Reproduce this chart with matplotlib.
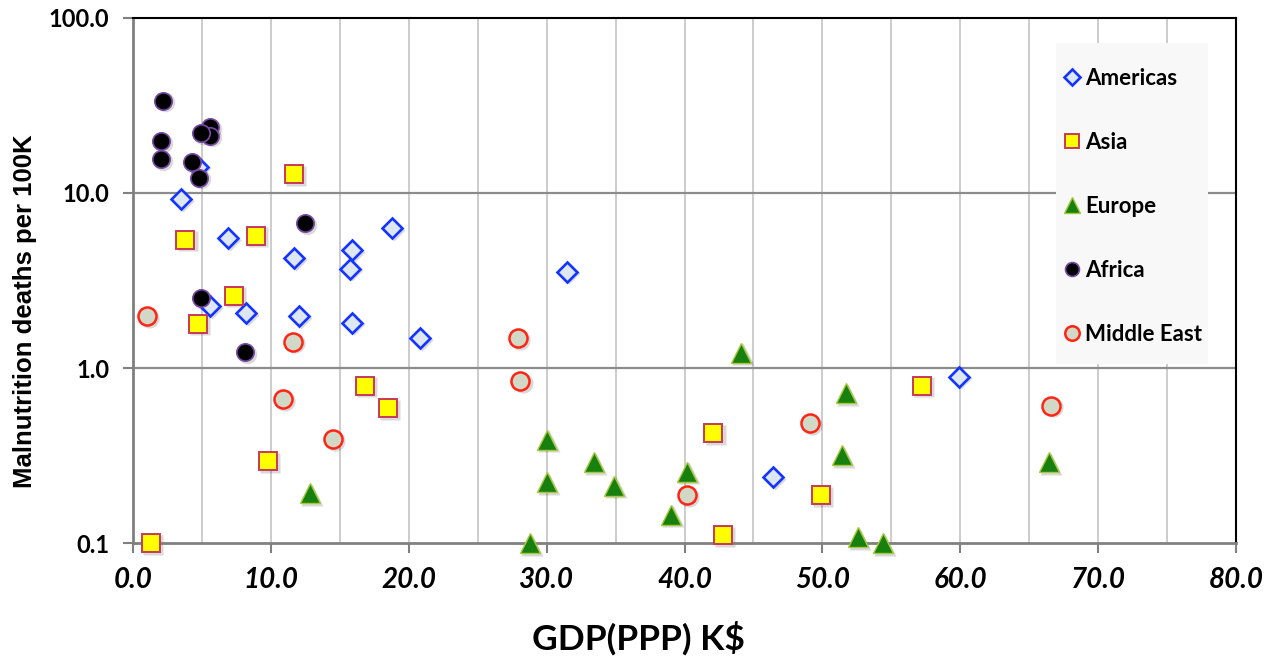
import matplotlib
matplotlib.use("Agg")
import matplotlib.pyplot as plt
import matplotlib.patches as patches
import numpy as np

# GDP(PPP) in k$ vs malnutrition deaths per 100k
americas_x = [4.7, 3.5, 6.9, 11.7, 15.9, 15.7, 18.8, 5.6, 8.2, 12.0, 15.9, 20.8, 31.5, 46.4, 59.9]
americas_y = [14.1, 9.2, 5.5, 4.25, 4.7, 3.7, 6.3, 2.26, 2.06, 1.98, 1.81, 1.48, 3.54, 0.238, 0.89]

asia_x = [11.7, 3.8, 8.9, 7.3, 4.7, 16.8, 18.5, 9.8, 1.3, 42.1, 42.8, 57.2, 49.9]
asia_y = [12.8, 5.4, 5.7, 2.58, 1.79, 0.79, 0.59, 0.294, 0.1, 0.425, 0.111, 0.79, 0.188]

europe_x = [12.8, 28.8, 30.0, 30.0, 33.4, 34.9, 39.0, 40.2, 44.1, 51.7, 51.4, 52.6, 54.4, 66.4]
europe_y = [0.193, 0.1, 0.388, 0.223, 0.29, 0.212, 0.145, 0.255, 1.22, 0.72, 0.318, 0.108, 0.1, 0.29]

africa_x = [2.2, 2.0, 2.0, 5.6, 5.6, 4.9, 4.3, 4.8, 12.5, 4.9, 8.1]
africa_y = [33.6, 19.8, 15.6, 23.8, 21.2, 22.0, 15.0, 12.2, 6.7, 2.5, 1.23]

mideast_x = [1.0, 11.6, 10.9, 14.5, 27.9, 28.1, 40.2, 49.1, 66.6]
mideast_y = [1.98, 1.41, 0.665, 0.393, 1.48, 0.843, 0.188, 0.485, 0.607]

x_ticks = [0, 10, 20, 30, 40, 50, 60, 70, 80]
x_labels = ["0.0", "10.0", "20.0", "30.0", "40.0", "50.0", "60.0", "70.0", "80.0"]
y_ticks = [0.1, 1, 10, 100]
y_labels = ["0.1", "1.0", "10.0", "100.0"]

W, H = 1277, 668
fig = plt.figure(figsize=(W / 100, H / 100), dpi=100)
ax = fig.add_axes([0.1042, 0.1871, 0.8637, 0.786])

ax.set_yscale("log")
ax.set_xlim(0, 80)
ax.set_ylim(0.1, 100)

# grid: light verticals every 5, darker horizontals at decades
for gx in np.arange(5, 80, 5):
    ax.axvline(gx, color="#c8c8c8", lw=1.3, zorder=0)
for gy in [1, 10]:
    ax.axhline(gy, color="#8c8c8c", lw=1.6, zorder=0)

series = [
    (americas_x, americas_y, dict(marker="D", ms=10, mfc="#dde7f1", mec="#1434ff", mew=1.9), "Americas"),
    (asia_x, asia_y, dict(marker="s", ms=12.5, mfc="#ffff00", mec="#c8385a", mew=1.4), "Asia"),
    (europe_x, europe_y, dict(marker="^", ms=14, mfc="#17800f", mec="#a6c83a", mew=1.0), "Europe"),
    (africa_x, africa_y, dict(marker="o", ms=12.5, mfc="black", mec="#7a4aa8", mew=1.2), "Africa"),
    (mideast_x, mideast_y, dict(marker="o", ms=13, mfc="#d2d8c6", mec="#ff2414", mew=1.8), "Middle East"),
]

for xs, ys, st, name in series:
    # soft drop shadow like the original
    ax.plot(np.array(xs) + 0.15, np.array(ys) * 0.98, ls="none", marker=st["marker"], ms=st["ms"] + 1.5,
            mfc="#000000", mec="none", alpha=0.15, zorder=2, clip_on=False)
    ax.plot(xs, ys, ls="none", label=name, zorder=3, clip_on=False, **st)

ax.set_xticks(x_ticks)
ax.set_xticklabels(x_labels)
ax.set_yticks(y_ticks)
ax.set_yticklabels(y_labels)
ax.yaxis.set_minor_locator(matplotlib.ticker.NullLocator())

for lab in ax.get_xticklabels():
    lab.set_fontfamily("Lato")
    lab.set_fontweight("bold")
    lab.set_fontstyle("italic")
    lab.set_fontsize(20)
for lab in ax.get_yticklabels():
    lab.set_fontfamily("Lato")
    lab.set_fontweight("bold")
    lab.set_fontsize(17)

ax.tick_params(axis="both", direction="out", length=7, width=1.5, color="#808080", pad=10)

ax.spines["left"].set_color("#808080")
ax.spines["left"].set_linewidth(2)
ax.spines["bottom"].set_color("#808080")
ax.spines["bottom"].set_linewidth(2)
ax.spines["top"].set_color("black")
ax.spines["top"].set_linewidth(1.5)
ax.spines["right"].set_color("black")
ax.spines["right"].set_linewidth(1.5)

ax.set_xlabel("GDP(PPP) K$", fontfamily="Lato", fontweight="bold", fontsize=25.5)
ax.xaxis.set_label_coords(0.458, -0.148)
ax.set_ylabel("Malnutrition deaths per 100K", fontfamily="Liberation Sans",
              fontweight="bold", fontsize=18.5)
ax.yaxis.set_label_coords(-0.087, 0.442)

# legend panel (light grey box, no border)
ax.add_patch(patches.Rectangle((1056 / W, 1 - 364 / H), 152 / W, 321 / H,
                               transform=fig.transFigure, facecolor="#f8f8f8",
                               edgecolor="none", zorder=1, clip_on=False))
leg = ax.legend(loc="upper left", bbox_to_anchor=(1061 / W, 1 - 68 / H),
                bbox_transform=fig.transFigure, frameon=False,
                prop={"family": "Lato", "weight": "bold", "size": 16},
                labelspacing=1.93, handletextpad=0.1, handlelength=1.0,
                markerscale=0.8, borderpad=0, borderaxespad=0)
leg.set_zorder(5)

fig.savefig("out.png", dpi=100)
